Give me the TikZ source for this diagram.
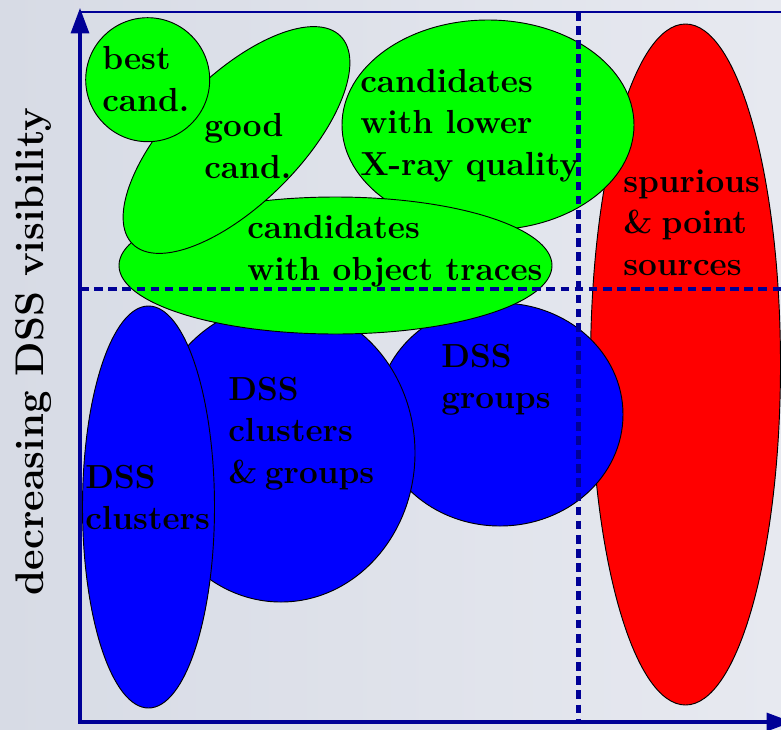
\documentclass[tikz,border=0pt]{standalone}
\usetikzlibrary{arrows.meta}
\definecolor{axblue}{RGB}{0,0,150}
\definecolor{bgL}{RGB}{215,219,229}
\definecolor{bgR}{RGB}{231,233,240}
\tikzset{
  blob/.style={draw=black, line width=0.7pt},
  lbl/.style={anchor=base west, inner sep=0pt, align=left, font=\fontsize{25}{31.1}\selectfont\bfseries},
  axisline/.style={draw=axblue, line width=2.3pt},
  guide/.style={draw=axblue, line width=3.3pt, dash pattern=on 6.5pt off 4.1pt}
}
\begin{document}
\begin{tikzpicture}[x=0.75pt,y=-0.75pt, line join=miter]
\useasboundingbox (0,0) rectangle (781,729);
\shade[left color=bgL, right color=bgR] (0,0) rectangle (781,729);

% red
\path[blob, fill=red] (685.5,364.5) ellipse (95 and 340.5);
% blue
\path[blob, fill=blue] (500,414.5) ellipse (123 and 111.5);
\path[blob, fill=blue] (281,453) ellipse (134 and 149);
\path[blob, fill=blue] (148.5,507) ellipse (66 and 201);
% green
\path[blob, fill=green] (488,125) ellipse (146 and 105);
\path[blob, fill=green] (335.5,265.5) ellipse (216.5 and 68.5);
\path[blob, fill=green, shift={(236.5,140)}, rotate=45] (0,0) ellipse (147 and 64);
\path[blob, fill=green] (147.7,79.7) circle (62);

% axes
\coordinate (O) at (80,722);
\coordinate (T) at (80,8);
\coordinate (R) at (792,722);
\coordinate (TL) at (80,12);
\coordinate (TR) at (790,12);
\draw[axisline, {Triangle[length=19pt,width=13.5pt]}-{Triangle[length=19pt,width=13.5pt]}] (T) -- (O) -- (R);
\draw[axisline, line width=1.9pt] (TL) -- (TR);

% guides
\coordinate (VT) at (578.5,12);
\coordinate (VB) at (578.5,720);
\coordinate (HL) at (80,289);
\coordinate (HR) at (781,289);
\draw[guide] (VT) -- (VB);
\draw[guide] (HL) -- (HR);

% labels (anchored at the baseline of the last line)
\node[lbl] (best) at (102,111) {best\\cand.};
\node[lbl] (good) at (204,178) {good\\cand.};
\node[lbl] (lower) at (360,175) {candidates\\with lower\\X-ray quality};
\node[lbl] (traces) at (247,280) {candidates\\with object traces};
\node[lbl] (spur) at (623,275) {spurious\\\&\hspace{-0.1em} point\\sources};
\node[lbl] (grp) at (441,408.5) {DSS\\groups};
\node[lbl] (clgr) at (228,483) {DSS\\clusters\\\&\hspace{-0.15em} groups};
\node[lbl] (cl) at (85,529.5) {DSS\\clusters};

\node[rotate=90, anchor=base, inner sep=0pt, font=\fontsize{30}{36}\selectfont\bfseries] (ylab) at (43,351.5) {decreasing DSS visibility};
\end{tikzpicture}
\end{document}
